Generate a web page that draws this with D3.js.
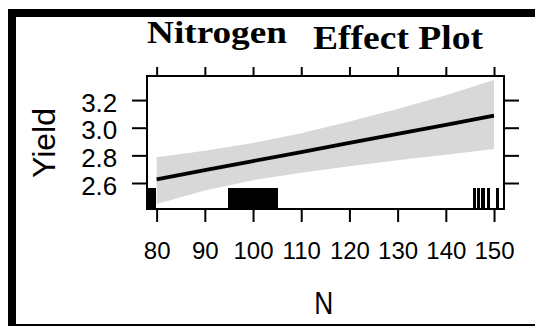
<!DOCTYPE html>
<html>
<head>
<meta charset="utf-8">
<script src="https://cdn.jsdelivr.net/npm/d3@7"></script>
<style>
  html, body { margin: 0; padding: 0; background: #fff; }
  svg { display: block; }
</style>
</head>
<body>
<svg id="chart" width="535" height="327"></svg>
<script>
// ---- Data ----
const nValues      = [80, 90, 100, 110, 120, 130, 140, 150];
const fitYield     = [2.627, 2.693, 2.759, 2.824, 2.890, 2.956, 3.021, 3.087];
const upperYield   = [2.786, 2.833, 2.890, 2.960, 3.045, 3.135, 3.235, 3.345];
const lowerYield   = [2.448, 2.545, 2.620, 2.675, 2.722, 2.765, 2.805, 2.846];
const rugN = [78.3, 78.8, 79.3, 79.6,
  95.2, 95.7, 96.2, 96.7, 97.2, 97.7, 98.2, 98.7, 99.2, 99.7,
  100.2, 100.7, 101.2, 101.7, 102.2, 102.7, 103.2, 103.7, 104.2, 104.7, 104.9,
  145.9, 146.7, 147.6, 147.9, 148.8, 150.8];
const xTicks = [80, 90, 100, 110, 120, 130, 140, 150];
const yTicks = [2.6, 2.8, 3.0, 3.2];
const titleParts = ["Nitrogen", "Effect Plot"];
const xLabel = "N";
const yLabel = "Yield";

// ---- Layout ----
const svg = d3.select("#chart");
const panel = {left: 147, right: 504, top: 76, bottom: 209};

const x = d3.scaleLinear().domain([78.0, 152.07]).range([panel.left, panel.right]);
const y = d3.scaleLinear().domain([2.412, 3.374]).range([panel.bottom, panel.top]);

// outer frame
svg.append("rect").attr("x", 8).attr("y", 9).attr("width", 535 - 8).attr("height", 8).attr("fill", "#000");
svg.append("rect").attr("x", 8).attr("y", 9).attr("width", 8).attr("height", 317).attr("fill", "#000");
svg.append("rect").attr("x", 8).attr("y", 324).attr("width", 535 - 8).attr("height", 2).attr("fill", "#000");

// titles
svg.append("text")
  .attr("x", 147).attr("y", 43.3)
  .attr("font-family", "'Liberation Serif', 'DejaVu Serif', serif")
  .attr("font-weight", "bold").attr("font-size", 31)
  .attr("textLength", 140).attr("lengthAdjust", "spacingAndGlyphs")
  .attr("fill", "#000")
  .text(titleParts[0]);
svg.append("text")
  .attr("x", 313).attr("y", 49.3)
  .attr("font-family", "'Liberation Serif', 'DejaVu Serif', serif")
  .attr("font-weight", "bold").attr("font-size", 34)
  .attr("textLength", 170).attr("lengthAdjust", "spacingAndGlyphs")
  .attr("fill", "#000")
  .text(titleParts[1]);

// confidence band
const band = d3.area()
  .x((d, i) => x(nValues[i]))
  .y0((d, i) => y(lowerYield[i]))
  .y1((d, i) => y(upperYield[i]));
svg.append("path")
  .datum(nValues)
  .attr("d", band)
  .attr("fill", "#d8d8d8");

// fit line
const line = d3.line()
  .x((d, i) => x(nValues[i]))
  .y((d, i) => y(fitYield[i]));
svg.append("path")
  .datum(nValues)
  .attr("d", line)
  .attr("fill", "none")
  .attr("stroke", "#000")
  .attr("stroke-width", 3.8);

// rug
svg.append("g").selectAll("line")
  .data(rugN)
  .join("line")
  .attr("x1", d => x(d)).attr("x2", d => x(d))
  .attr("y1", 188).attr("y2", panel.bottom)
  .attr("stroke", "#000")
  .attr("stroke-width", 3)
  .attr("shape-rendering", "crispEdges");

// axes
const fontSans = "'Liberation Sans', Arial, sans-serif";

function styleAxis(g) {
  g.select(".domain").remove();
  g.selectAll(".tick line").attr("stroke", "#000").attr("stroke-width", 2);
  g.selectAll(".tick text").attr("fill", "#000").attr("font-family", fontSans);
}

const gBottom = svg.append("g")
  .attr("transform", `translate(0,${panel.bottom})`)
  .call(d3.axisBottom(x).tickValues(xTicks).tickSize(13).tickSizeOuter(0).tickFormat(d3.format("d")));
styleAxis(gBottom);
gBottom.selectAll(".tick text").attr("y", 50.3).attr("dy", 0).attr("font-size", 24);

const gTop = svg.append("g")
  .attr("transform", `translate(0,${panel.top})`)
  .call(d3.axisTop(x).tickValues(xTicks).tickSize(9).tickSizeOuter(0).tickFormat(""));
styleAxis(gTop);

const gLeft = svg.append("g")
  .attr("transform", `translate(${panel.left},0)`)
  .call(d3.axisLeft(y).tickValues(yTicks).tickSize(15).tickSizeOuter(0).tickFormat(d3.format(".1f")));
styleAxis(gLeft);
gLeft.selectAll(".tick text").attr("x", -29.7).attr("dy", 0).attr("y", 11).attr("font-size", 26);

const gRight = svg.append("g")
  .attr("transform", `translate(${panel.right},0)`)
  .call(d3.axisRight(y).tickValues(yTicks).tickSize(15).tickSizeOuter(0).tickFormat(""));
styleAxis(gRight);

// panel box
svg.append("rect")
  .attr("x", panel.left).attr("y", panel.top)
  .attr("width", panel.right - panel.left).attr("height", panel.bottom - panel.top)
  .attr("fill", "none").attr("stroke", "#000").attr("stroke-width", 2);

// axis titles
svg.append("text")
  .attr("x", 323.8).attr("y", 314.3)
  .attr("text-anchor", "middle")
  .attr("font-family", fontSans).attr("font-size", 31)
  .attr("textLength", 19).attr("lengthAdjust", "spacingAndGlyphs")
  .attr("fill", "#000")
  .text(xLabel);

svg.append("text")
  .attr("transform", "translate(54.5,143) rotate(-90)")
  .attr("text-anchor", "middle")
  .attr("font-family", fontSans).attr("font-size", 31)
  .attr("textLength", 70).attr("lengthAdjust", "spacingAndGlyphs")
  .attr("fill", "#000")
  .text(yLabel);
</script>
</body>
</html>
